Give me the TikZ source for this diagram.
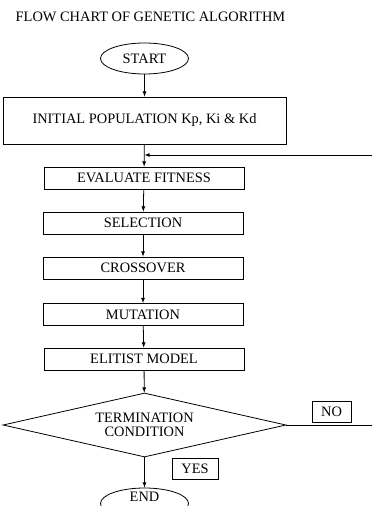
\documentclass[tikz,border=0pt]{standalone}
\usepackage{fontspec}
\setmainfont{Liberation Serif}
\usetikzlibrary{arrows,shapes.geometric}

\begin{document}
\begin{tikzpicture}[x=1pt,y=-1pt,line width=0.8pt,
    every node/.style={font=\fontsize{14.4}{14}\selectfont},
    stepbox/.style={draw,minimum width=200pt,minimum height=22pt,inner sep=0pt},
    terminal/.style={draw,ellipse,minimum width=88pt,minimum height=31pt,inner sep=0pt},
    tagbox/.style={draw,minimum height=21pt,inner sep=0pt}]

    \useasboundingbox (0,0) rectangle (372,506);

    \node[anchor=west] at (12,17) (title) {FLOW CHART OF GENETIC ALGORITHM};

    \node[terminal] at (144.5,58.5) (start) {START};
    \node[draw,minimum width=283pt,minimum height=47pt,inner sep=0pt] at (144.5,120.5) (init) {INITIAL POPULATION Kp, Ki \& Kd};

    \node[stepbox] at (144,178) (evaluate) {EVALUATE FITNESS};
    \node[stepbox] at (143,223) (selection) {SELECTION};
    \node[stepbox] at (143,268) (crossover) {CROSSOVER};
    \node[stepbox] at (143,314.5) (mutation) {MUTATION};
    \node[stepbox] at (144,359) (elitist) {ELITIST MODEL};

    \node[draw,diamond,aspect=4.42,minimum width=283pt,minimum height=64pt,inner sep=0pt,align=center] at (144.5,425) (termination) {TERMINATION\\CONDITION};

    \node[tagbox,minimum width=39pt] at (331.5,411.5) (no_label) {NO};
    \node[tagbox,minimum width=46pt] at (195,468.5) (yes_label) {YES};

    % text sits high in the cut-off ellipse
    \node[terminal,text height=8pt,text depth=12pt] at (144.5,503.5) (end) {END};

    \coordinate (no_end) at (372,425);
    \coordinate (loop_start) at (372,155);

    \draw [-latex] (start) -- (init);
    \draw [-latex] (init) -- (evaluate);
    \draw [-latex] (evaluate) -- (selection);
    \draw [-latex] (selection) -- (crossover);
    \draw [-latex] (crossover) -- (mutation);
    \draw [-latex] (mutation) -- (elitist);
    \draw [-latex] (elitist) -- (termination);
    \draw [-latex] (termination) -- (end);

    \draw (termination.east) -- (no_end);
    \draw [-latex] (loop_start) -- (loop_start -| init.south);

\end{tikzpicture}
\end{document}
